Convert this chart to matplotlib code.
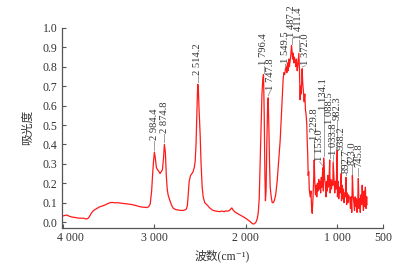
import matplotlib
matplotlib.use("Agg")
import matplotlib.pyplot as plt
from matplotlib.transforms import ScaledTranslation

plt.rcParams['font.family'] = ['Liberation Serif', 'Noto Sans CJK SC', 'DejaVu Serif']

# ---- spectrum (wavenumber, absorbance) ----
wavenumber = [
    4012, 3980, 3954, 3930, 3899, 3870, 3834, 3800, 3775, 3757, 3740, 3725, 3710, 3690, 3670, 3650,
    3626, 3600, 3570, 3539, 3510, 3484, 3455, 3429, 3400, 3375, 3340, 3298, 3270, 3233, 3200, 3157,
    3130, 3102, 3080, 3060, 3045, 3030, 3020, 3010, 3000, 2990, 2978, 2965, 2950, 2938, 2925, 2912,
    2900, 2891, 2880, 2870, 2860, 2850, 2830, 2810, 2795, 2770, 2740, 2710, 2686, 2665, 2650, 2640,
    2632, 2620, 2605, 2590, 2577, 2565, 2555, 2545, 2537, 2530, 2526, 2520, 2512, 2500, 2490, 2478,
    2467, 2450, 2424, 2400, 2369, 2340, 2310, 2282, 2260, 2240, 2220, 2200, 2180, 2165, 2154, 2140,
    2120, 2096, 2070, 2040, 2010, 1980, 1955, 1935, 1921, 1905, 1890, 1878, 1866, 1855, 1845, 1835,
    1825, 1815, 1808, 1800, 1793, 1787, 1780, 1772, 1764, 1757, 1750, 1742, 1735, 1724, 1713, 1702,
    1690, 1675, 1659, 1645, 1626, 1610, 1600, 1593, 1585, 1577, 1568, 1560, 1553, 1546, 1539, 1532,
    1525, 1518, 1510, 1502, 1496, 1490, 1484, 1478, 1471, 1462, 1455, 1448, 1440, 1432, 1422, 1416,
    1412, 1408, 1403, 1396, 1390, 1386, 1380, 1374, 1364, 1357, 1350, 1342, 1335, 1331, 1325, 1320,
    1314, 1308, 1298, 1290, 1283, 1276, 1268, 1260, 1254, 1247, 1240, 1233, 1226, 1219, 1212, 1205,
    1198, 1191, 1184, 1177, 1170, 1161, 1154, 1151, 1140, 1133, 1126, 1119, 1112, 1106, 1100, 1094,
    1085, 1080, 1073, 1066, 1058, 1051, 1047, 1037, 1030, 1023, 1014, 1003, 1000, 993, 986, 979,
    970, 959, 956, 949, 942, 935, 928, 921, 914, 907, 900, 893, 886, 879, 872, 865,
    858, 851, 844, 837, 828, 821, 814, 807, 800, 793, 786, 779, 772, 765, 758, 751,
    744, 737, 730, 723, 716, 709, 702, 695, 688, 681, 677,
]
absorbance = [
    0.030, 0.034, 0.036, 0.030, 0.026, 0.024, 0.021, 0.020, 0.020, 0.017, 0.016, 0.019, 0.028, 0.045, 0.057, 0.064,
    0.071, 0.078, 0.083, 0.088, 0.095, 0.100, 0.101, 0.099, 0.100, 0.098, 0.096, 0.094, 0.092, 0.089, 0.085, 0.079,
    0.077, 0.076, 0.075, 0.080, 0.095, 0.16, 0.24, 0.31, 0.36, 0.33, 0.28, 0.27, 0.26, 0.25, 0.26, 0.27,
    0.33, 0.40, 0.36, 0.24, 0.17, 0.14, 0.11, 0.085, 0.072, 0.065, 0.062, 0.060, 0.060, 0.063, 0.068, 0.085,
    0.13, 0.21, 0.24, 0.25, 0.26, 0.28, 0.31, 0.40, 0.55, 0.66, 0.71, 0.69, 0.58, 0.45, 0.30, 0.18,
    0.13, 0.10, 0.088, 0.075, 0.062, 0.058, 0.055, 0.054, 0.057, 0.053, 0.058, 0.056, 0.060, 0.068, 0.073, 0.062,
    0.052, 0.045, 0.038, 0.030, 0.022, 0.012, 0.003, -0.006, -0.010, -0.008, 0.000, 0.015, 0.045, 0.12, 0.30, 0.50,
    0.66, 0.74, 0.76, 0.55, 0.25, 0.11, 0.16, 0.40, 0.58, 0.64, 0.50, 0.30, 0.18, 0.13, 0.10, 0.10,
    0.11, 0.14, 0.21, 0.30, 0.42, 0.58, 0.68, 0.74, 0.77, 0.76, 0.79, 0.80, 0.77, 0.82, 0.78, 0.84,
    0.80, 0.83, 0.86, 0.91, 0.88, 0.84, 0.87, 0.82, 0.85, 0.83, 0.80, 0.84, 0.78, 0.81, 0.87, 0.80,
    0.70, 0.63, 0.70, 0.66, 0.74, 0.79, 0.72, 0.68, 0.62, 0.66, 0.58, 0.55, 0.50, 0.42, 0.35, 0.24,
    0.26, 0.17, 0.13, 0.16, 0.08, 0.045, 0.12, 0.22, 0.32, 0.20, 0.14, 0.19, 0.13, 0.20, 0.16, 0.22,
    0.17, 0.21, 0.15, 0.23, 0.18, 0.28, 0.16, 0.33, 0.22, 0.20, 0.13, 0.21, 0.16, 0.24, 0.18, 0.19,
    0.32, 0.15, 0.22, 0.17, 0.21, 0.19, 0.31, 0.22, 0.15, 0.21, 0.17, 0.37, 0.13, 0.21, 0.12, 0.18,
    0.15, 0.25, 0.11, 0.19, 0.12, 0.17, 0.10, 0.15, 0.13, 0.23, 0.09, 0.15, 0.10, 0.14, 0.13, 0.12,
    0.07, 0.13, 0.05, 0.24, 0.13, 0.10, 0.06, 0.13, 0.08, 0.12, 0.05, 0.10, 0.225, 0.07, 0.12, 0.05,
    0.14, 0.09, 0.19, 0.10, 0.06, 0.16, 0.08, 0.18, 0.07, 0.13, 0.09,
]

# ---- peak annotations ----
peak_labels = ["2 984.4", "2 874.8", "2 514.2", "1 796.4", "1 747.8", "1 549.5", "1 487.2", "1 411.4",
               "1 372.0", "1 229.8", "1 153.0", "1 134.1", "1 088.5", "1 033.8", "982.3", "938.2",
               "892.7", "823.0", "745.8"]
peak_x = [3000, 2891, 2526, 1808, 1757, 1568, 1502, 1422, 1386, 1254, 1161, 1151, 1085, 1047, 1003, 959,
          907, 837, 772]
peak_y = [0.37, 0.41, 0.72, 0.77, 0.65, 0.80, 0.92, 0.88, 0.80, 0.33, 0.29, 0.34, 0.33, 0.32, 0.38, 0.26,
          0.24, 0.25, 0.235]
label_x = [3000, 2891, 2526, 1808, 1730, 1568, 1502, 1422, 1353, 1254, 1194, 1151, 1085, 1047, 1003, 959,
           907, 837, 772]
label_y = [0.42, 0.455, 0.755, 0.805, 0.68, 0.815, 0.95, 0.94, 0.805, 0.42, 0.31, 0.575, 0.50, 0.345, 0.525, 0.37,
           0.25, 0.29, 0.28]

x_ticks = [4000, 3000, 2000, 1000, 500]
x_tick_labels = ["4 000", "3 000", "2 000", "1 000", "500"]
y_ticks = [0.0, 0.1, 0.2, 0.3, 0.4, 0.5, 0.6, 0.7, 0.8, 0.9, 1.0]

fig = plt.figure(figsize=(4.2, 2.69), dpi=100)
ax = fig.add_axes([0.147, 0.1535, 0.7655, 0.7425])

ax.plot(wavenumber, absorbance, color='#ff1a1a', lw=0.9)

for lab, px, py, tx, ty in zip(peak_labels, peak_x, peak_y, label_x, label_y):
    ax.plot([px, tx], [py, ty], color='#a0a0a0', lw=0.7, clip_on=False)
    ax.text(tx, ty + 0.003, lab, rotation=90, ha='center', va='bottom', fontsize=7.6,
            color='#333333', clip_on=False)

ax.set_xlim(4012, 500)
ax.set_ylim(-0.029, 1.0)
ax.set_xticks(x_ticks)
ax.set_xticklabels(x_tick_labels)
ax.set_yticks(y_ticks)
ax.set_yticklabels([f"{v:.1f}" for v in y_ticks])

for s in ['top', 'right']:
    ax.spines[s].set_visible(False)
for s in ['left', 'bottom']:
    ax.spines[s].set_color('#555555')
    ax.spines[s].set_linewidth(0.9)
ax.tick_params(direction='in', length=3, width=0.8, colors='#555555', labelcolor='#333333',
               labelsize=8.5, pad=3)

first = ax.get_xticklabels()[0]
first.set_transform(first.get_transform() + ScaledTranslation(8 / 100, 0, fig.dpi_scale_trans))

ax.set_xlabel("波数(cm⁻¹)", fontsize=8.5, color='#333333', labelpad=4)
ax.set_ylabel("吸光度", fontsize=8.5, color='#333333', labelpad=6)

fig.savefig("out.png", dpi=100)
